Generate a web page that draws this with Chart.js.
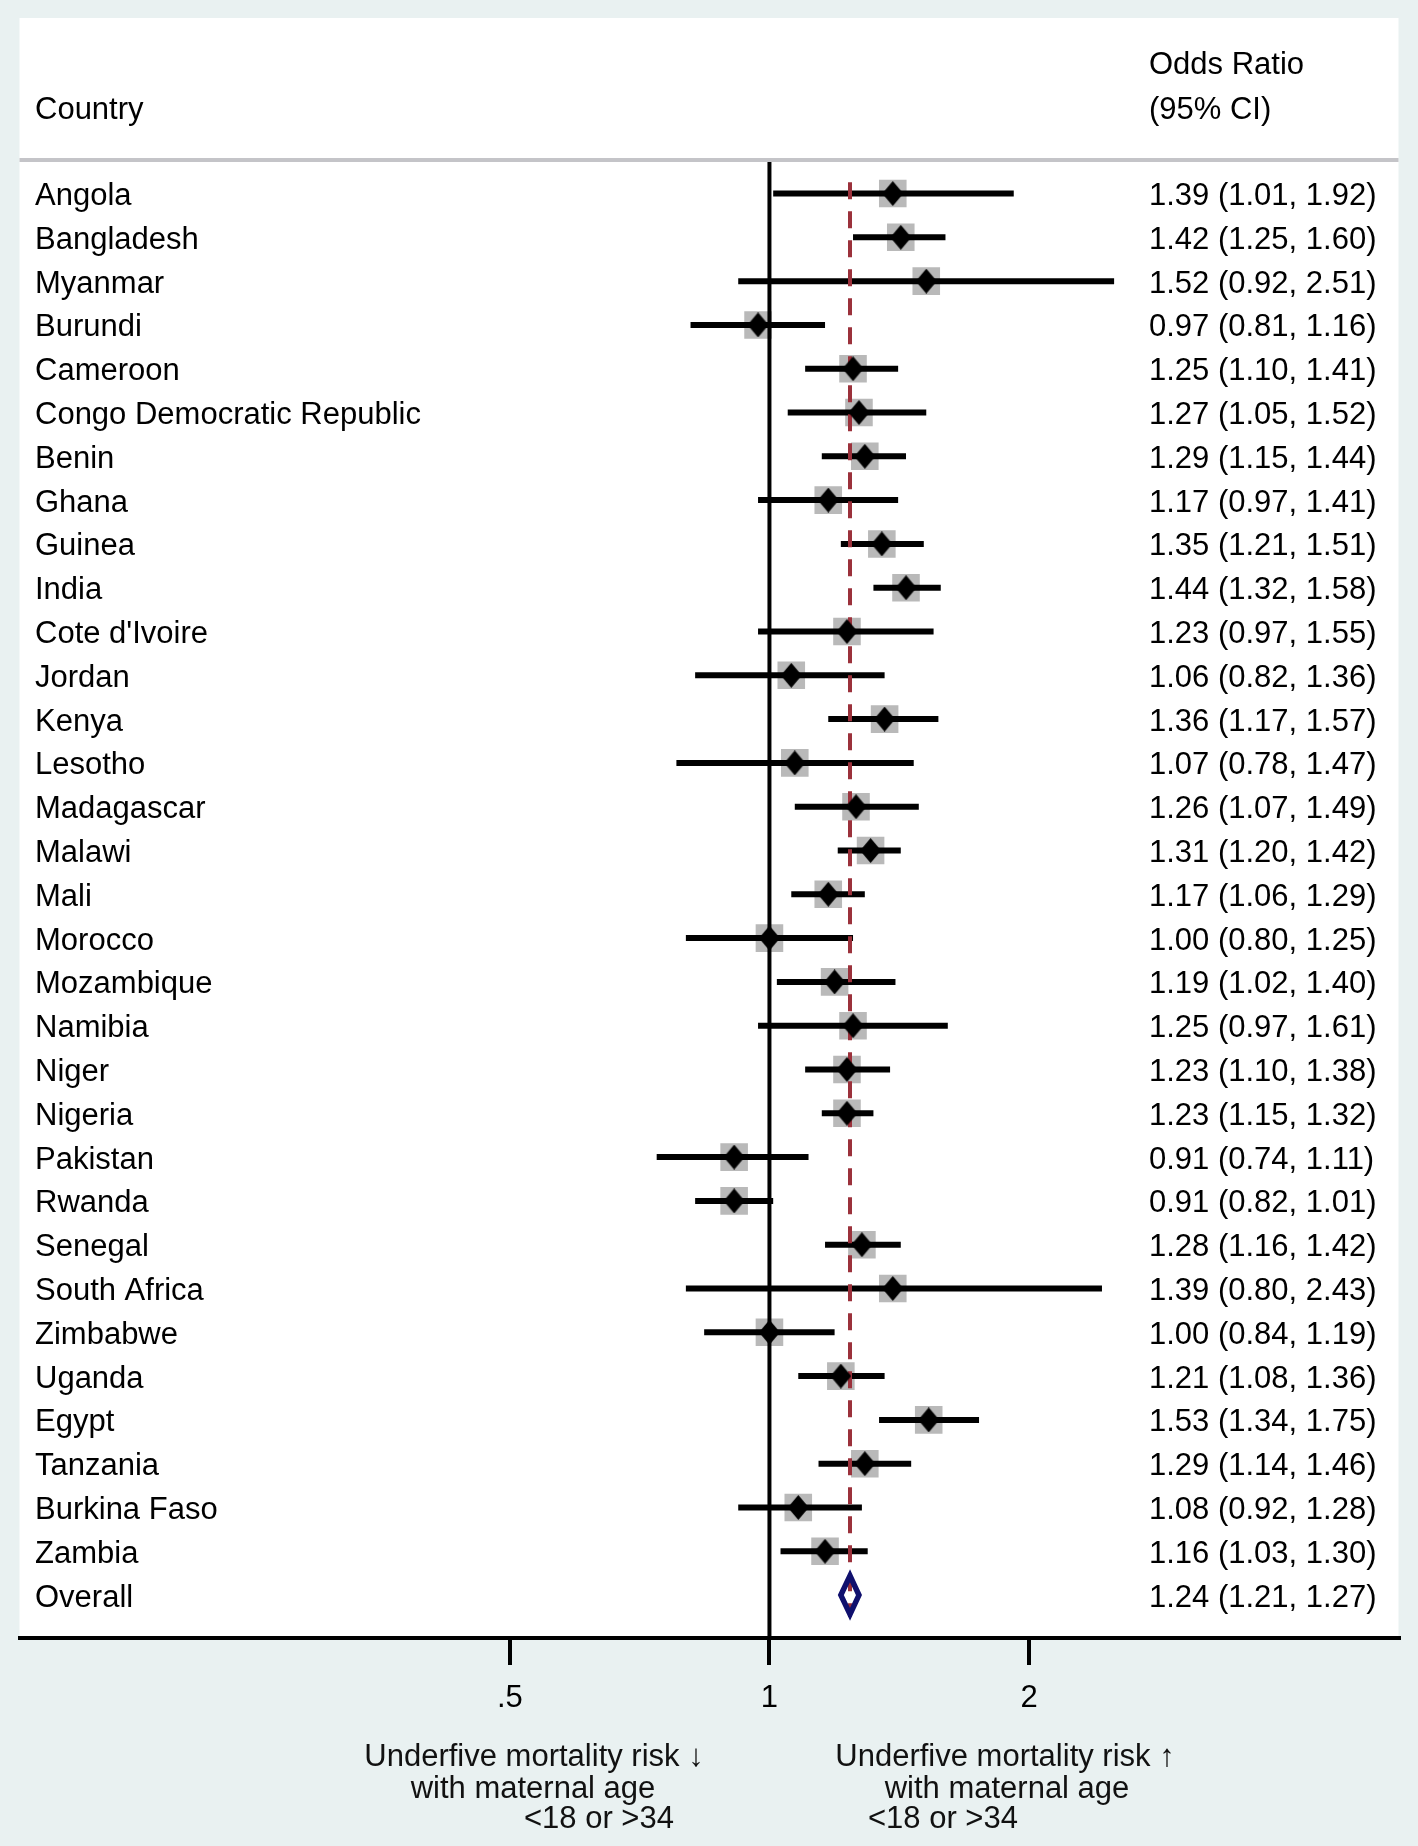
<!DOCTYPE html>
<html><head><meta charset="utf-8">
<script src="https://cdn.jsdelivr.net/npm/chart.js@4.4.1/dist/chart.umd.min.js"></script>
<style>html,body{margin:0;padding:0;background:#e9f1f1;}canvas{display:block;}</style>
</head><body>
<canvas id="c" width="1418" height="1846"></canvas>
<script>
// ---- data ----
const countries = ["Angola","Bangladesh","Myanmar","Burundi","Cameroon","Congo Democratic Republic","Benin","Ghana","Guinea","India","Cote d'Ivoire","Jordan","Kenya","Lesotho","Madagascar","Malawi","Mali","Morocco","Mozambique","Namibia","Niger","Nigeria","Pakistan","Rwanda","Senegal","South Africa","Zimbabwe","Uganda","Egypt","Tanzania","Burkina Faso","Zambia"];
const oddsRatio = [1.39,1.42,1.52,0.97,1.25,1.27,1.29,1.17,1.35,1.44,1.23,1.06,1.36,1.07,1.26,1.31,1.17,1.00,1.19,1.25,1.23,1.23,0.91,0.91,1.28,1.39,1.00,1.21,1.53,1.29,1.08,1.16];
const ciLow     = [1.01,1.25,0.92,0.81,1.10,1.05,1.15,0.97,1.21,1.32,0.97,0.82,1.17,0.78,1.07,1.20,1.06,0.80,1.02,0.97,1.10,1.15,0.74,0.82,1.16,0.80,0.84,1.08,1.34,1.14,0.92,1.03];
const ciHigh    = [1.92,1.60,2.51,1.16,1.41,1.52,1.44,1.41,1.51,1.58,1.55,1.36,1.57,1.47,1.49,1.42,1.29,1.25,1.40,1.61,1.38,1.32,1.11,1.01,1.42,2.43,1.19,1.36,1.75,1.46,1.28,1.30];
const overallLabel = "Overall";
const overallEstimate = [1.24, 1.21, 1.27]; // OR, low, high
const xTickValues = [0.5, 1, 2];
const xTickLabels = [".5", "1", "2"];
const headerLeft = "Country";
const headerRight = ["Odds Ratio", "(95% CI)"];
const noteLeft = ["Underfive mortality risk \u2193", "with maternal age", "<18 or >34"];
const noteRight = ["Underfive mortality risk \u2191", "with maternal age", "<18 or >34"];

// ---- styling ----
const FONT = "'Liberation Sans', Arial, Helvetica, sans-serif";
const FS = 31;
const DY = 3;                              // vertical text nudge
const nRows = countries.length;
const overallRow = nRows;

function diamondCanvas(w, h, color) {
  const c = document.createElement('canvas');
  c.width = w; c.height = h;
  const g = c.getContext('2d');
  g.fillStyle = color;
  g.beginPath();
  g.moveTo(w / 2, 0); g.lineTo(w, h / 2); g.lineTo(w / 2, h); g.lineTo(0, h / 2);
  g.closePath(); g.fill();
  return c;
}
const blackDiamond = diamondCanvas(21, 25, '#000');

const ciText = (o, l, h) => `${o.toFixed(2)} (${l.toFixed(2)}, ${h.toFixed(2)})`;

// ---- datasets ----
const datasets = [];
// weight boxes
datasets.push({
  type: 'line', showLine: false, order: 5,
  data: countries.map((c, i) => ({x: oddsRatio[i], y: i})),
  pointStyle: 'rect', pointRadius: 19.5, pointHoverRadius: 19.5,
  pointBackgroundColor: '#b9b9b9', pointBorderWidth: 0
});
// null line at OR = 1
datasets.push({
  type: 'line', order: 4,
  data: [{x: 1, y: -0.72}, {x: 1, y: 32.98}],
  borderColor: '#000', borderWidth: 4, pointRadius: 0, fill: false
});
// CI lines
countries.forEach((c, i) => {
  datasets.push({
    type: 'line', order: 3,
    data: [{x: ciLow[i], y: i}, {x: ciHigh[i], y: i}],
    borderColor: '#000', borderWidth: 6, pointRadius: 0, fill: false, borderCapStyle: 'butt'
  });
});
// overall effect dashed line
datasets.push({
  type: 'line', order: 2,
  data: [{x: overallEstimate[0], y: -0.26}, {x: overallEstimate[0], y: overallRow + 0.5}],
  borderColor: '#9b313b', borderWidth: 4, borderDash: [17, 12], pointRadius: 0, fill: false
});
// overall diamond
(() => {
  const [o, l, h] = overallEstimate;
  datasets.push({
    type: 'line', order: 1,
    data: [{x: o, y: overallRow - 0.44}, {x: h, y: overallRow}, {x: o, y: overallRow + 0.44},
           {x: l, y: overallRow}, {x: o, y: overallRow - 0.44}, {x: h, y: overallRow}],
    borderColor: '#10106e', borderWidth: 5.5, borderJoinStyle: 'miter', pointRadius: 0, fill: false, tension: 0
  });
})();
// point estimates
datasets.push({
  type: 'line', showLine: false, order: 0,
  data: countries.map((c, i) => ({x: oddsRatio[i], y: i})),
  pointStyle: blackDiamond, pointRadius: 10, pointHoverRadius: 10
});

// ---- plugins ----
const panelPlugin = {
  id: 'panel',
  beforeDraw(chart) {
    const ctx = chart.ctx, a = chart.chartArea;
    ctx.save();
    ctx.fillStyle = '#e9f1f1';
    ctx.fillRect(0, 0, chart.width, chart.height);
    ctx.fillStyle = '#ffffff';
    ctx.fillRect(a.left, 18, a.right - a.left, a.bottom - 18);
    ctx.strokeStyle = '#c4c4c8';
    ctx.lineWidth = 4;
    ctx.beginPath(); ctx.moveTo(a.left, a.top - 2); ctx.lineTo(a.right, a.top - 2); ctx.stroke();
    ctx.restore();
  }
};
const textPlugin = {
  id: 'texts',
  afterDraw(chart) {
    const ctx = chart.ctx, ys = chart.scales.y;
    ctx.save();
    ctx.fillStyle = '#000';
    ctx.font = `${FS}px ${FONT}`;
    ctx.textBaseline = 'middle';
    ctx.textAlign = 'left';
    // headers
    ctx.fillText(headerLeft, 35, 107 + DY);
    ctx.fillText(headerRight[0], 1149, 62 + DY);
    ctx.fillText(headerRight[1], 1149, 107 + DY);
    // rows
    countries.forEach((c, i) => {
      const y = ys.getPixelForValue(i) + DY;
      ctx.fillText(c, 35, y);
      ctx.fillText(ciText(oddsRatio[i], ciLow[i], ciHigh[i]), 1149, y);
    });
    const yo = ys.getPixelForValue(overallRow) + DY;
    ctx.fillText(overallLabel, 35, yo);
    ctx.fillText(ciText(...overallEstimate), 1149, yo);
    // notes
    ctx.fillStyle = '#111111';
    ctx.textAlign = 'center';
    ctx.fillText(noteLeft[0], 534, 1757);
    ctx.fillText(noteLeft[1], 533, 1789);
    ctx.fillText(noteRight[0], 1005, 1757);
    ctx.fillText(noteRight[1], 1007, 1789);
    ctx.textAlign = 'left';
    ctx.fillText(noteLeft[2], 524, 1819);
    ctx.fillText(noteRight[2], 868, 1819);
    ctx.restore();
  }
};

new Chart(document.getElementById('c'), {
  type: 'line',
  data: {datasets},
  options: {
    responsive: false, animation: false, devicePixelRatio: 1,
    events: [],
    layout: {padding: {left: 19, right: 18, top: 162, bottom: 0}},
    plugins: {legend: {display: false}, tooltip: {enabled: false}},
    scales: {
      x: {
        type: 'logarithmic', min: 0.1350, max: 5.3637, bounds: 'data',
        afterBuildTicks: s => { s.ticks = xTickValues.map(v => ({value: v})); },
        afterFit: s => { s.height = 208; },
        ticks: {
          callback: (v) => xTickLabels[xTickValues.indexOf(v)],
          font: {family: FONT, size: FS}, color: '#000', padding: 15,
          maxRotation: 0, autoSkip: false
        },
        grid: {drawOnChartArea: false, color: '#000', lineWidth: 4, tickLength: 27},
        border: {display: true, color: '#000', width: 4}
      },
      y: {type: 'linear', reverse: true, min: -0.72, max: 32.98, display: false}
    }
  },
  plugins: [panelPlugin, textPlugin]
});
</script>
</body></html>
